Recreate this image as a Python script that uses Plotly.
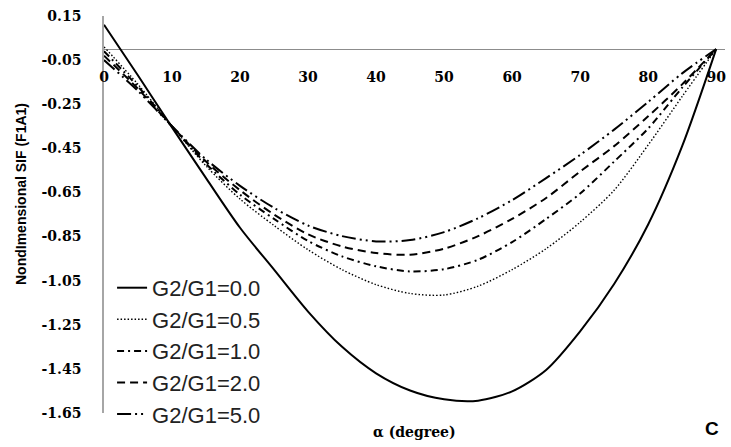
import plotly.graph_objects as go

# Crack inclination angle (degrees)
alpha = [0, 5, 10, 15, 20, 25, 30, 35, 40, 45, 50, 55, 60, 65, 70, 75, 80, 85, 90]

# Nondimensional SIF F1A1 for each shear-modulus ratio G2/G1
sif_g00 = [0.11, -0.12, -0.355, -0.585, -0.81, -1.00, -1.19, -1.35, -1.47, -1.548,
           -1.588, -1.594, -1.552, -1.455, -1.28, -1.065, -0.795, -0.44, 0.0]
sif_g05 = [0.01, -0.16, -0.35, -0.53, -0.68, -0.80, -0.91, -1.00, -1.068, -1.108,
           -1.115, -1.075, -1.00, -0.905, -0.785, -0.64, -0.435, -0.215, 0.0]
sif_g10 = [-0.01, -0.17, -0.35, -0.52, -0.66, -0.77, -0.87, -0.94, -0.985, -1.008,
           -0.998, -0.955, -0.875, -0.77, -0.655, -0.51, -0.36, -0.175, 0.0]
sif_g20 = [-0.03, -0.18, -0.35, -0.51, -0.64, -0.75, -0.84, -0.895, -0.925, -0.932,
           -0.905, -0.848, -0.77, -0.675, -0.555, -0.44, -0.305, -0.16, 0.0]
sif_g50 = [-0.05, -0.19, -0.35, -0.50, -0.62, -0.72, -0.80, -0.848, -0.872, -0.866,
           -0.83, -0.767, -0.685, -0.585, -0.48, -0.365, -0.24, -0.11, 0.0]

series_names = ["G2/G1=0.0", "G2/G1=0.5", "G2/G1=1.0", "G2/G1=2.0", "G2/G1=5.0"]

x_ticks = [0, 10, 20, 30, 40, 50, 60, 70, 80, 90]
x_tick_text = ["0", "10", "20", "30", "40", "50", "60", "70", "80", "90"]
y_ticks = [0.15, -0.05, -0.25, -0.45, -0.65, -0.85, -1.05, -1.25, -1.45, -1.65]
y_tick_text = ["0.15", "-0.05", "-0.25", "-0.45", "-0.65", "-0.85", "-1.05", "-1.25", "-1.45", "-1.65"]

series = [sif_g00, sif_g05, sif_g10, sif_g20, sif_g50]
styles = [
    dict(width=2.0, dash="solid"),
    dict(width=1.4, dash="1.5px,2px"),
    dict(width=2.0, dash="7px,4px,2px,4px"),
    dict(width=2.0, dash="8px,5px"),
    dict(width=2.0, dash="14px,4px,2px,4px,2px,4px"),
]

fig = go.Figure()
for name, vals, st in zip(series_names, series, styles):
    fig.add_trace(go.Scatter(
        x=alpha, y=vals, name=name, mode="lines",
        line=dict(color="black", width=st["width"], dash=st["dash"],
                  shape="spline", smoothing=0.8),
    ))

tick_font = dict(family="DejaVu Serif", size=14, color="black")


def bold(labels):
    return ["<b>%s</b>" % t for t in labels]


fig.update_layout(
    width=731, height=447,
    margin=dict(l=104, r=6, t=16, b=34),
    paper_bgcolor="white", plot_bgcolor="white",
    showlegend=True,
    legend=dict(
        x=0.013, y=0.368, xanchor="left", yanchor="top",
        bgcolor="rgba(0,0,0,0)",
        font=dict(family="Liberation Sans", size=22, color="#222222"),
    ),
    xaxis=dict(
        range=[0, 91.3], tickvals=x_ticks, ticktext=bold(x_tick_text),
        anchor="free", position=(0.0 - (-1.65)) / (0.15 - (-1.65)),
        showline=False, showgrid=False, zeroline=False,
        ticks="", ticklabelstandoff=18,
        tickfont=tick_font,
    ),
    yaxis=dict(
        range=[-1.65, 0.15], tickvals=y_ticks, ticktext=bold(y_tick_text),
        showline=True, linecolor="#a6a6a6", linewidth=1.5,
        showgrid=False,
        zeroline=True, zerolinecolor="#8c8c8c", zerolinewidth=1.2,
        ticks="", ticklabelstandoff=18,
        tickfont=tick_font,
    ),
    font=dict(family="Liberation Sans", color="black"),
)

# Axis titles and panel letter
fig.add_annotation(
    text="<b>NondImensional SIF (F1A1)</b>", xref="paper", yref="paper",
    x=-(104 - 21) / 621, y=(413 - 194) / 397, showarrow=False, textangle=-90,
    xanchor="center", yanchor="middle",
    font=dict(family="Liberation Sans", size=14, color="black"),
)
fig.add_annotation(
    text="<b>α (degree)</b>", xref="paper", yref="paper",
    x=(414 - 104) / 621, y=-(432 - 413) / 397, showarrow=False,
    xanchor="center", yanchor="middle",
    font=dict(family="DejaVu Serif", size=14, color="black"),
)
fig.add_annotation(
    text="<b>C</b>", xref="paper", yref="paper",
    x=(712 - 104) / 621, y=-(428 - 413) / 397, showarrow=False,
    xanchor="center", yanchor="middle",
    font=dict(family="Liberation Sans", size=19, color="black"),
)

fig.write_html("out.html")
